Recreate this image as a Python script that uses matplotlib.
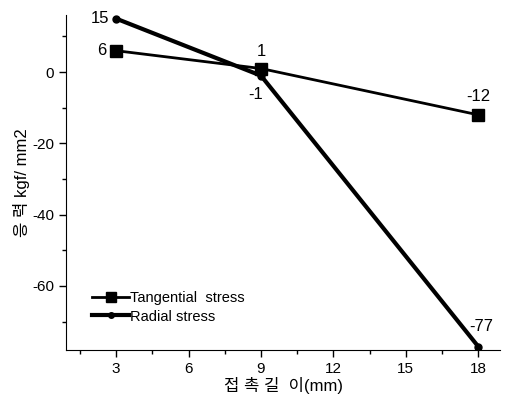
import matplotlib
matplotlib.use("Agg")
import matplotlib.pyplot as plt
from matplotlib.ticker import MultipleLocator

plt.rcParams['font.family'] = ['Liberation Sans', 'Noto Sans CJK KR']
plt.rcParams['axes.unicode_minus'] = False

# data
x_len = [3, 9, 18]
tangential = [6, 1, -12]
radial = [15, -1, -77]

fig = plt.figure(figsize=(5.05, 3.96), dpi=100)
ax = fig.add_axes([0.131, 0.116, 0.859, 0.846])

ax.plot(x_len, tangential, color='black', lw=2, marker='s', ms=9,
        label='Tangential  stress')
ax.plot(x_len, radial, color='black', lw=3, marker='o', ms=5,
        label='Radial stress')

# point labels
lbl = dict(fontsize=12, color='black')
ax.annotate('15', (3, 15), xytext=(-5, 0), textcoords='offset points', ha='right', va='center', **lbl)
ax.annotate('6', (3, 6), xytext=(-7, 0), textcoords='offset points', ha='right', va='center', **lbl)
ax.annotate('1', (9, 1), xytext=(0, 7), textcoords='offset points', ha='center', va='bottom', **lbl)
ax.annotate('-1', (9, -1), xytext=(-4, -8), textcoords='offset points', ha='center', va='top', **lbl)
ax.annotate('-12', (18, -12), xytext=(0, 8), textcoords='offset points', ha='center', va='bottom', **lbl)
ax.annotate('-77', (18, -77), xytext=(2, 9), textcoords='offset points', ha='center', va='bottom', **lbl)

ax.set_xlim(0.93, 18.9)
ax.set_ylim(-78, 16)
ax.xaxis.set_major_locator(MultipleLocator(3))
ax.xaxis.set_minor_locator(MultipleLocator(1.5))
ax.yaxis.set_major_locator(MultipleLocator(20))
ax.yaxis.set_minor_locator(MultipleLocator(10))
ax.tick_params(which='major', direction='out', length=5, width=1, labelsize=11)
ax.tick_params(which='minor', direction='out', length=3, width=1)

ax.spines['top'].set_visible(False)
ax.spines['right'].set_visible(False)

ax.set_xlabel('접 촉 길  이(mm)', fontsize=12, labelpad=1)
ax.set_ylabel('응 력 kgf/ mm2', fontsize=12, labelpad=2)

ax.legend(loc='lower left', bbox_to_anchor=(0.03, 0.04), frameon=False,
          fontsize=10.5, handlelength=2.5, handletextpad=0.1, labelspacing=0.3,
          markerscale=0.8)

fig.savefig('out.png', dpi=100)
